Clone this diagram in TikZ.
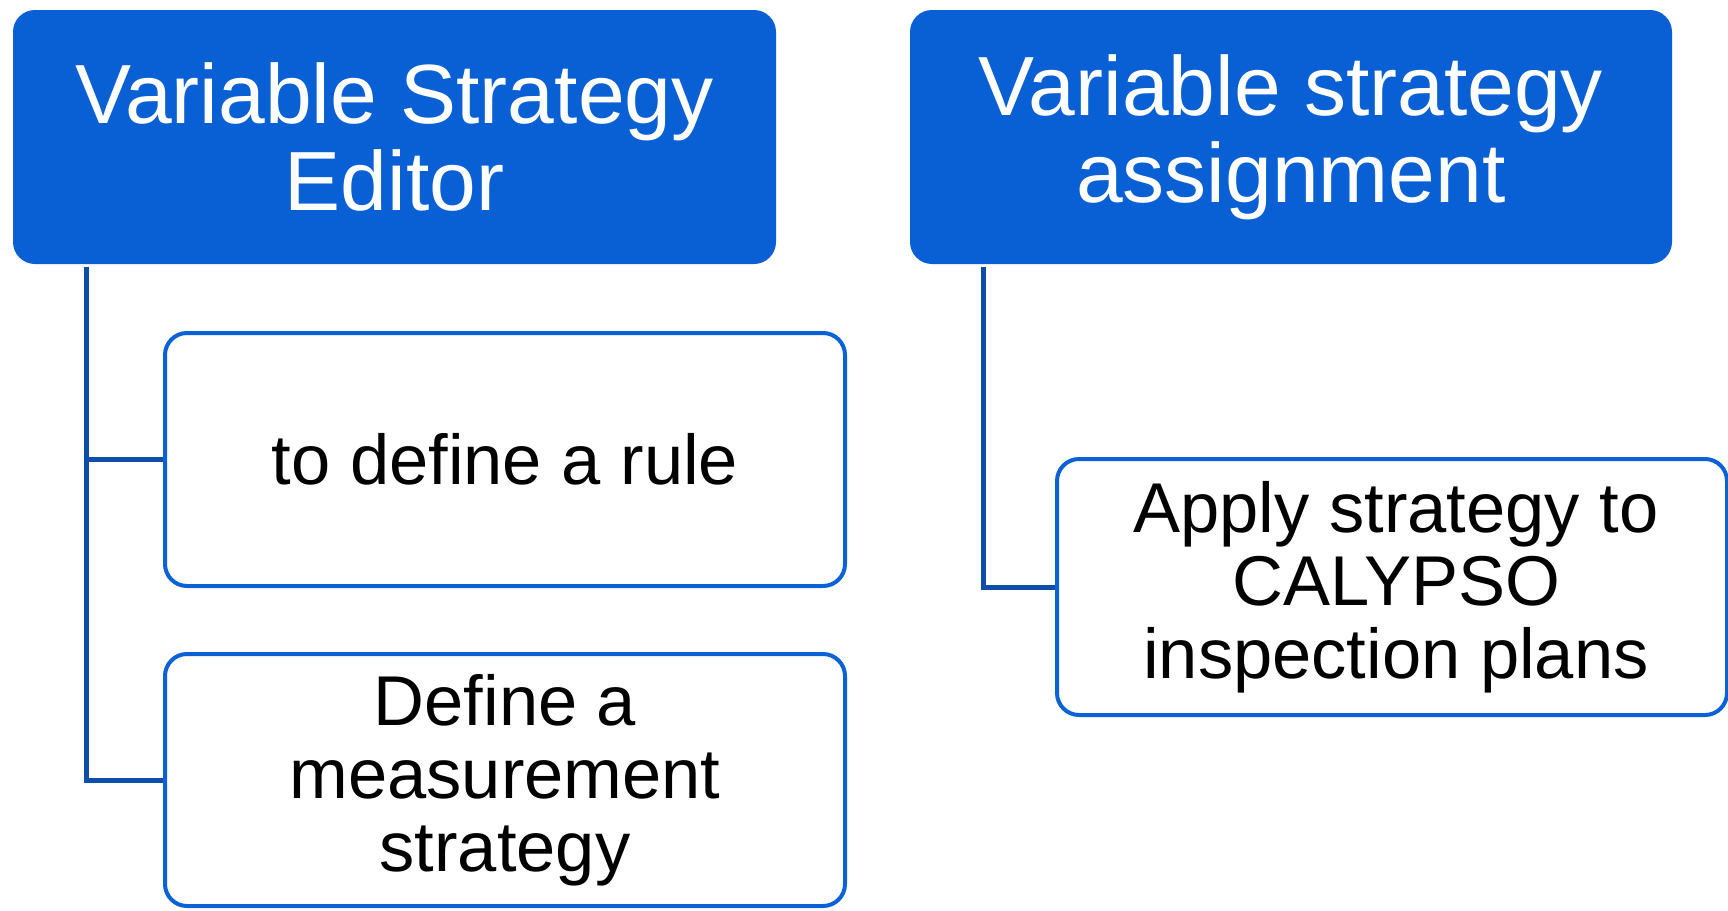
\documentclass[tikz,border=0pt]{standalone}
\usepackage{fontspec}
\setmainfont{Liberation Sans}
\usetikzlibrary{calc}
\definecolor{headblue}{RGB}{8,96,212}
\definecolor{edgeblue}{RGB}{10,98,214}
\definecolor{linkblue}{RGB}{12,78,168}
\begin{document}
\begin{tikzpicture}[x=1pt,y=-1pt,
  headbox/.style={fill=headblue, draw=none, rounded corners=22pt,
    text=white, align=center, inner sep=0pt,
    font=\fontsize{84}{87}\selectfont},
  itembox/.style={fill=white, draw=edgeblue, line width=4pt, rounded corners=22pt,
    text=black, align=center, inner sep=0pt,
    font=\fontsize{70.5}{73}\selectfont},
  link/.style={draw=linkblue, line width=5pt}]
\useasboundingbox (0,0) rectangle (1728,910);

% top-level headings
\node[headbox, minimum width=763pt, minimum height=254pt] (h1) at (394.5,137)
  {Variable Strategy\\Editor};
\node[headbox, minimum width=762pt, minimum height=254pt] (h2) at (1291,137)
  {Variable strategy\\assignment};

% sub-items
\node[itembox, minimum width=680pt, minimum height=253pt] (c1) at (505,459.5)
  {to define a rule};
\node[itembox, minimum width=680pt, minimum height=252pt] (c2) at (505,780)
  {Define a\\measurement\\strategy};
\node[itembox, minimum width=670pt, minimum height=256pt] (c3) at (1392,587)
  {\hspace*{8pt}Apply strategy to\\\hspace*{8pt}CALYPSO\\\hspace*{8pt}inspection plans};

% tree connectors
\coordinate (s1) at ($(h1.south west)+(74,3)$);
\coordinate (s2) at ($(h2.south west)+(74,3)$);
\draw[link] (s1) |- (c1.west);
\draw[link] (s1) |- (c2.west);
\draw[link] (s2) |- (c3.west);
\end{tikzpicture}
\end{document}
